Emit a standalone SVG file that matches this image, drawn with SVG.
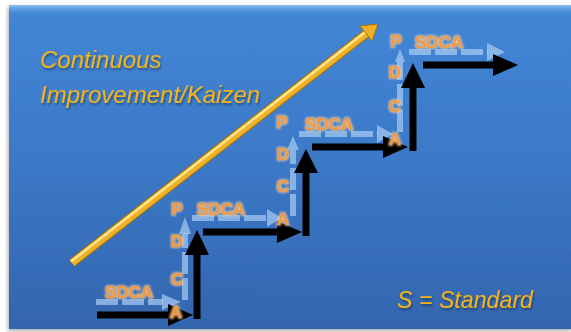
<svg xmlns="http://www.w3.org/2000/svg" width="571" height="332" viewBox="0 0 571 332">
  <defs>
    <linearGradient id="bg" x1="0" y1="0" x2="0" y2="1">
      <stop offset="0" stop-color="#4287d6"/>
      <stop offset="0.5" stop-color="#3b78c6"/>
      <stop offset="1" stop-color="#3365ae"/>
    </linearGradient>
    <linearGradient id="bevel" x1="0" y1="0" x2="0" y2="1">
      <stop offset="0" stop-color="#8cc0f4"/>
      <stop offset="1" stop-color="#4a8ddb" stop-opacity="0"/>
    </linearGradient>
    <filter id="shadow" x="-5%" y="-5%" width="110%" height="110%">
      <feGaussianBlur in="SourceAlpha" stdDeviation="2"/>
      <feOffset dx="-1" dy="2"/>
      <feComponentTransfer><feFuncA type="linear" slope="0.35"/></feComponentTransfer>
      <feMerge><feMergeNode/><feMergeNode in="SourceGraphic"/></feMerge>
    </filter>
    <filter id="tshadow" x="-10%" y="-20%" width="120%" height="150%">
      <feGaussianBlur in="SourceAlpha" stdDeviation="1"/>
      <feOffset dx="1" dy="2"/>
      <feComponentTransfer><feFuncA type="linear" slope="0.4"/></feComponentTransfer>
      <feMerge><feMergeNode/><feMergeNode in="SourceGraphic"/></feMerge>
    </filter>
    <filter id="glow" x="-30%" y="-30%" width="160%" height="160%">
      <feMorphology in="SourceAlpha" operator="dilate" radius="1" result="d"/>
      <feGaussianBlur in="d" stdDeviation="0.8" result="b"/>
      <feFlood flood-color="#ffd29a" flood-opacity="0.75"/>
      <feComposite in2="b" operator="in"/>
      <feMerge><feMergeNode/><feMergeNode in="SourceGraphic"/></feMerge>
    </filter>
    <style>
      .title { font-family: "Liberation Sans", Arial, sans-serif; font-style: italic; font-size: 24px; fill: #f2b31b; }
      .lbl { font-family: "Liberation Sans", Arial, sans-serif; font-weight: bold; font-size: 17px; fill: #f5983a; text-anchor: middle; }
      .blk { stroke: #000; stroke-width: 7; fill: none; }
      .blkh { fill: #000; }
      .dsh { stroke: #a9ccf3; stroke-opacity: 0.7; stroke-width: 6; stroke-dasharray: 22 4; fill: none; }
      .dshh { fill: #a9ccf3; fill-opacity: 0.7; }
    </style>
  </defs>

  <rect x="0" y="0" width="571" height="332" fill="#ffffff"/>
  <g id="background" filter="url(#shadow)">
    <rect x="9" y="5" width="564" height="324" fill="url(#bg)"/>
    <rect x="9" y="5" width="564" height="10" fill="url(#bevel)"/>
  </g>

  <g id="kaizen-arrow">
    <line x1="72" y1="263" x2="367" y2="33" stroke="#a8720a" stroke-width="9"/>
    <line x1="72" y1="263" x2="367" y2="33" stroke="#efb226" stroke-width="7"/>
    <line x1="71" y1="261.5" x2="366" y2="31.5" stroke="#ffe590" stroke-width="2.5"/>
    <polygon points="378,24 372,41 360,26" fill="#efb226" stroke="#a8720a" stroke-width="1"/>
  </g>

  <g id="connectors">
    <!-- dashed light arrows -->
    <line class="dsh" x1="96" y1="302" x2="163" y2="302"/>
    <polygon class="dshh" points="181,302 162,294 162,310"/>
    <line class="dsh" x1="185" y1="300" x2="185" y2="233"/>
    <polygon class="dshh" points="185,217 179,234 191,234"/>

    <line class="dsh" x1="192" y1="218" x2="268" y2="218"/>
    <polygon class="dshh" points="282,218 267,209 267,227"/>
    <line class="dsh" x1="293" y1="216" x2="293" y2="150"/>
    <polygon class="dshh" points="293,136 287,150 299,150"/>

    <line class="dsh" x1="299" y1="134" x2="378" y2="134"/>
    <polygon class="dshh" points="393,134 377,125 377,143"/>
    <line class="dsh" x1="400" y1="132" x2="400" y2="62"/>
    <polygon class="dshh" points="400,49 395,62 405,62"/>

    <line class="dsh" x1="409" y1="52" x2="488" y2="52"/>
    <polygon class="dshh" points="505,52 487,43 487,61"/>

    <!-- black step arrows -->
    <line class="blk" x1="97" y1="315" x2="170" y2="315"/>
    <polygon class="blkh" points="193,315 168,304 168,326"/>
    <line class="blk" x1="197" y1="319" x2="197" y2="252"/>
    <polygon class="blkh" points="197,230 185,255 209,255"/>

    <line class="blk" x1="203" y1="232" x2="279" y2="232"/>
    <polygon class="blkh" points="302,232 277,221 277,243"/>
    <line class="blk" x1="306" y1="236" x2="306" y2="171"/>
    <polygon class="blkh" points="306,149 294,173 318,173"/>

    <line class="blk" x1="312" y1="147" x2="385" y2="147"/>
    <polygon class="blkh" points="408,147 383,136 383,158"/>
    <line class="blk" x1="413" y1="151" x2="413" y2="86"/>
    <polygon class="blkh" points="413,63 401,88 425,88"/>

    <line class="blk" x1="423" y1="65" x2="495" y2="65"/>
    <polygon class="blkh" points="518,65 493,54 493,76"/>
  </g>

  <g id="step1" filter="url(#glow)">
    <text class="lbl" x="129" y="298">SDCA</text>
    <text class="lbl" x="176" y="318">A</text>
    <text class="lbl" x="177" y="285">C</text>
    <text class="lbl" x="177" y="247">D</text>
    <text class="lbl" x="177" y="215">P</text>
  </g>
  <g id="step2" filter="url(#glow)">
    <text class="lbl" x="221" y="215">SDCA</text>
    <text class="lbl" x="283" y="225">A</text>
    <text class="lbl" x="283" y="192">C</text>
    <text class="lbl" x="283" y="160">D</text>
    <text class="lbl" x="282" y="128">P</text>
  </g>
  <g id="step3" filter="url(#glow)">
    <text class="lbl" x="329" y="130">SDCA</text>
    <text class="lbl" x="395" y="145">A</text>
    <text class="lbl" x="395" y="112">C</text>
    <text class="lbl" x="395" y="78">D</text>
    <text class="lbl" x="396" y="47">P</text>
  </g>
  <g id="step4" filter="url(#glow)">
    <text class="lbl" x="439" y="48">SDCA</text>
  </g>

  <g id="titles" filter="url(#tshadow)">
    <text class="title" x="40" y="68">Continuous</text>
    <text class="title" x="40" y="103">Improvement/Kaizen</text>
    <text class="title" x="397" y="308" textLength="136" lengthAdjust="spacingAndGlyphs">S = Standard</text>
  </g>
</svg>
